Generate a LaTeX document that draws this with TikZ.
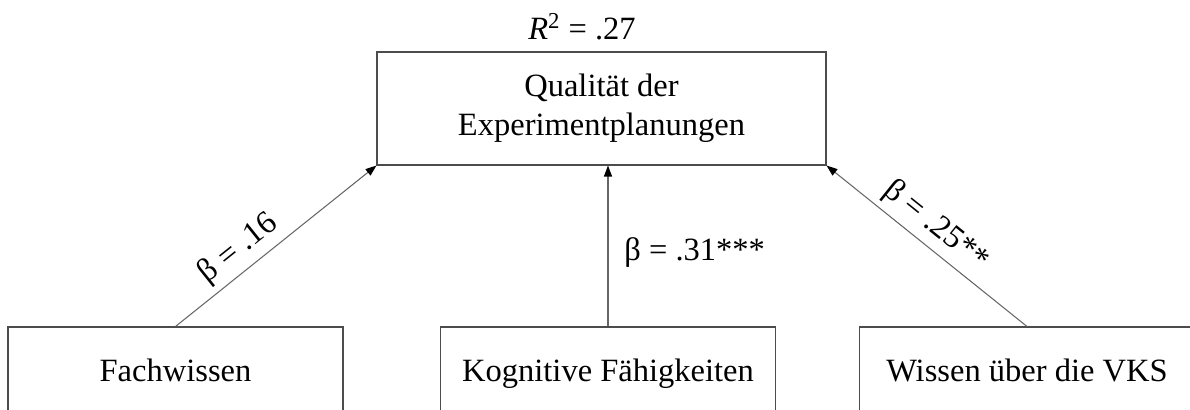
\documentclass[tikz,border=0pt]{standalone}
\usepackage{fontspec}
\setmainfont{Liberation Serif}
\usetikzlibrary{positioning,arrows.meta}
\tikzset{
  varbox/.style={draw=black!70, line width=0.6pt, minimum width=6.7cm, minimum height=1.9cm, align=center},
  predbox/.style={varbox, text height=1.0em, text depth=0.22em},
  outbox/.style={varbox, minimum width=8.98cm, minimum height=2.26cm},
  effect/.style={draw=black!60, line width=0.6pt, -{Triangle[length=2.2mm,width=1.6mm,black]}}
}

\begin{document}
\begin{tikzpicture}[x=1cm,y=1cm, font=\fontsize{18.5}{22}\selectfont]
  \useasboundingbox (0,0) rectangle (23.8,8.2);
  \node[outbox] (qual) at (12.03,6.03) {Qualität der\\Experimentplanungen};
  \node[above=0pt of qual, xshift=-3.9mm, yshift=1mm] (rsq) {\textit{R}\textsuperscript{2} = .27};
  \node[predbox] (fach) at (3.51,0.71) {Fachwissen};
  \node[predbox] (kog)  at (12.16,0.71) {Kognitive Fähigkeiten};
  \node[predbox] (vks)  at (20.54,0.71) {Wissen über die VKS};
  \draw[effect] (fach.north) -- node[sloped, above, pos=0.38] (b1) {β = .16} (qual.south west);
  \draw[effect] (kog.north) -- node[right, pos=0.46, xshift=2mm] (b2) {β = .31***} (kog.north |- qual.south);
  \draw[effect] (vks.north) -- node[sloped, above, pos=0.52] (b3) {β = .25**} (qual.south east);
\end{tikzpicture}
\end{document}
